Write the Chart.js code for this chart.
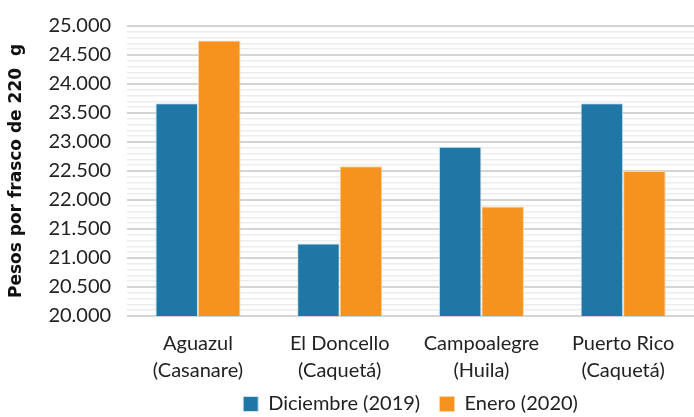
<!DOCTYPE html>
<html>
<head>
<meta charset="utf-8">
<script src="https://cdn.jsdelivr.net/npm/chart.js@4/dist/chart.umd.min.js"></script>
<style>
  html, body { margin: 0; padding: 0; background: #fff; }
  #wrap { width: 694px; height: 417px; }
</style>
</head>
<body>
<div id="wrap"><canvas id="barChart"></canvas></div>
<script>
// categories and series
const municipios = [
  ['Aguazul', '(Casanare)'],
  ['El Doncello', '(Caquetá)'],
  ['Campoalegre', '(Huila)'],
  ['Puerto Rico', '(Caquetá)']
];
const diciembre2019 = [23670, 21250, 22920, 23670];
const enero2020 = [24750, 22580, 21890, 22500];
const yTicks = [20000, 20500, 21000, 21500, 22000, 22500, 23000, 23500, 24000, 24500, 25000];

Chart.defaults.font.family = 'Lato, "Open Sans", sans-serif';
Chart.defaults.color = '#222';

function miles(v) {
  return String(v).replace(/\B(?=(\d{3})+(?!\d))/g, '.');
}

const data = {
  labels: municipios,
  datasets: [{
    label: 'Diciembre (2019)   ',
    data: diciembre2019,
    backgroundColor: '#1f77a5',
    borderColor: '#cfe0ee',
    borderWidth: 1,
    borderSkipped: 'bottom'
  }, {
    label: 'Enero (2020)',
    data: enero2020,
    backgroundColor: '#f6921e',
    borderColor: '#fbd3a3',
    borderWidth: 1,
    borderSkipped: 'bottom'
  }]
};

const config = {
  type: 'bar',
  data: data,
  options: {
    responsive: true,
    maintainAspectRatio: false,
    animation: false,
    layout: { padding: { top: 3, right: 0, left: 6, bottom: -7 } },
    datasets: { bar: { categoryPercentage: 0.6, barPercentage: 1.0 } },
    plugins: {
      legend: {
        position: 'bottom',
        fullSize: false,
        labels: {
          boxWidth: 15, boxHeight: 15, padding: 4,
          font: { size: 20 }, color: '#222'
        }
      },
      tooltip: { enabled: false }
    },
    scales: {
      x: {
        grid: { display: false },
        border: { display: false },
        ticks: { font: { size: 20, lineHeight: 1.35 }, color: '#222', padding: 6 },
        afterFit: function(scale) { scale.height = 74; }
      },
      y: {
        min: 20000,
        max: 25000,
        border: { display: false },
        title: {
          display: true,
          text: 'Pesos por frasco de 220  g',
          font: { family: '"DejaVu Sans", sans-serif', size: 17, weight: 'bold' },
          color: '#111',
          padding: { top: 0, bottom: 6 }
        },
        grid: {
          color: function(ctx) {
            if (!ctx.tick) return '#eee';
            return ctx.tick.value % 500 === 0 ? '#d4d4d4' : '#ededed';
          },
          lineWidth: function(ctx) {
            return ctx.tick && ctx.tick.value % 500 === 0 ? 2 : 1.5;
          },
          drawTicks: false
        },
        ticks: {
          stepSize: 100,
          autoSkip: false,
          padding: 16,
          font: { size: 20, lineHeight: 1.0 },
          color: '#222',
          callback: function(v) {
            return yTicks.indexOf(v) >= 0 ? miles(v) : '';
          }
        }
      }
    }
  }
};

const barChart = new Chart(document.getElementById('barChart'), config);
</script>
</body>
</html>
